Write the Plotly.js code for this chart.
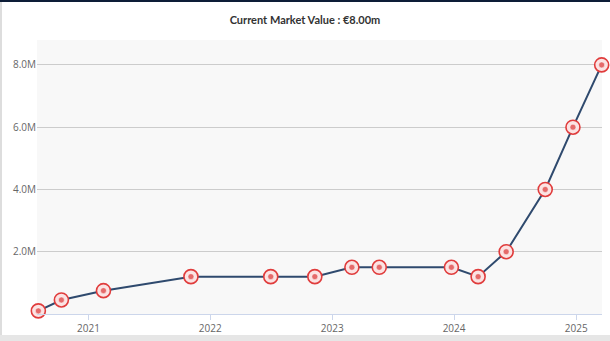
<!DOCTYPE html>
<html>
<head>
<meta charset="utf-8">
<script src="https://cdn.plot.ly/plotly-3.0.1.min.js"></script>
<style>
  html, body { margin: 0; padding: 0; background: #ffffff; }
  #wrap { position: relative; width: 610px; height: 341px; overflow: hidden; background: #fff; }
  #chart { position: absolute; left: 0; top: 0; width: 610px; height: 341px; }
  #topbar { position: absolute; left: 0; top: 0; width: 610px; height: 2px; background: #0d1d37; }
  #leftbar { position: absolute; left: 0; top: 2px; width: 2px; height: 339px; background: #dddddd; }
  #bottombar { position: absolute; left: 0; top: 335px; width: 610px; height: 6px; background: #e6e6e6; }
</style>
</head>
<body>
<div id="wrap">
  <div id="chart"></div>
  <div id="topbar"></div>
  <div id="leftbar"></div>
  <div id="bottombar"></div>
</div>
<script>
const dates = ['2020-08-04','2020-10-12','2021-02-15','2021-11-04','2022-07-01','2022-11-10',
               '2023-03-01','2023-05-22','2023-12-24','2024-03-13','2024-06-05','2024-09-30',
               '2024-12-22','2025-03-18'];
const marketValues = [100000, 450000, 750000, 1200000, 1200000, 1200000,
                      1500000, 1500000, 1500000, 1200000, 2000000, 4000000,
                      6000000, 8000000];
const yTickVals = [2000000, 4000000, 6000000, 8000000];
const yTickText = ['2.0M', '4.0M', '6.0M', '8.0M'];
const xTickVals = ['2021-01-01','2022-01-01','2023-01-01','2024-01-01','2025-01-01'];
const xTickText = ['2021','2022','2023','2024','2025'];
const titleText = 'Current Market Value : €8.00m';

const traces = [
  {
    x: dates, y: marketValues, type: 'scatter', mode: 'lines',
    line: {color: '#2f4a6e', width: 2},
    hoverinfo: 'skip', cliponaxis: false
  },
  {
    x: dates, y: marketValues, type: 'scatter', mode: 'markers',
    marker: {symbol: 'circle', size: 14, color: '#fbe3e3', line: {color: '#e03c3c', width: 1.6}},
    cliponaxis: false
  },
  {
    x: dates, y: marketValues, type: 'scatter', mode: 'markers',
    marker: {symbol: 'circle', size: 6, color: '#e56a6a', line: {color: '#ffffff', width: 0.5}},
    cliponaxis: false
  }
];

const layout = {
  width: 610, height: 341,
  margin: {l: 37, r: 8, t: 40, b: 27},
  paper_bgcolor: '#ffffff',
  plot_bgcolor: '#f8f8f8',
  showlegend: false,
  title: {
    text: '<b>' + titleText + '</b>',
    font: {family: 'Lato, "Open Sans", sans-serif', size: 11, color: '#333333'},
    x: 0.5, xanchor: 'center', y: 0.94, yanchor: 'middle'
  },
  xaxis: {
    type: 'date',
    range: ['2020-07-31', '2025-03-19'],
    tickvals: xTickVals, ticktext: xTickText,
    showgrid: false, zeroline: false,
    showline: true, linecolor: '#ccd6eb', linewidth: 1,
    ticks: 'outside', ticklen: 5, tickcolor: '#ccd6eb',
    tickfont: {family: '"Open Sans", sans-serif', size: 10, color: '#666666'},
    fixedrange: true
  },
  yaxis: {
    range: [0, 8800000],
    tickvals: yTickVals, ticktext: yTickText,
    showgrid: true, gridcolor: '#cccccc', gridwidth: 1,
    zeroline: false, showline: false, ticks: '',
    tickfont: {family: '"Open Sans", sans-serif', size: 10, color: '#666666'},
    fixedrange: true
  }
};

Plotly.newPlot('chart', traces, layout, {displayModeBar: false, staticPlot: true});
</script>
</body>
</html>
